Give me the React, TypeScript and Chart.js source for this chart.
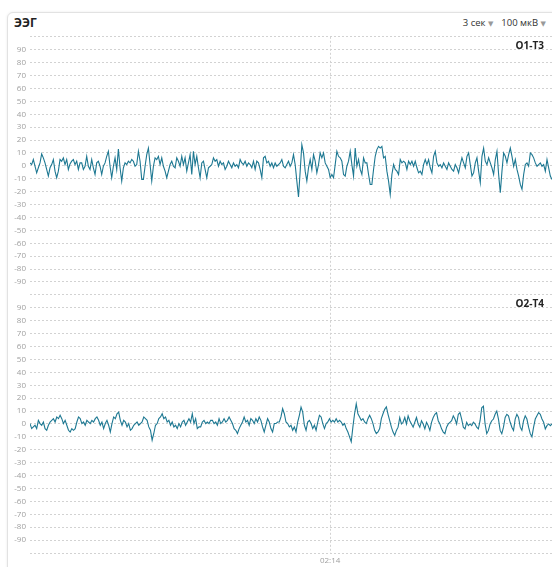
import React, { useEffect, useRef } from 'react';
import { Chart, registerables } from 'chart.js';

Chart.register(...registerables);

// ---- data ----
const chartTitle = 'ЭЭГ';
const timeWindowLabel = '3 сек';
const amplitudeLabel = '100 мкВ';
const channelNames = ['O1-T3', 'O2-T4'];
const windowStartSec = 132.275;
const windowLengthSec = 3;
const markerSec = 134;
const yMin = -100;
const yMax = 100;
const yStep = 10;

const o1t3: number[] = [
  2.3, 1.0, 4.9, -0.3, -5.4, -1.5, 2.3, 9.2, 6.2, 2.3, -2.8, -7.9, -1.5, 1.0, 4.9, -4.1, -9.2, -4.1, 4.9, 3.6,
  6.2, 1.0, 4.9, -2.8, 1.5, 3.6, 4.9, 1.0, 3.6, -2.8, 2.3, 2.3, -2.8, -0.3, 7.4, -0.3, -2.8, 4.9, -1.5, -6.7,
  2.3, 3.6, -0.3, -6.7, -0.3, 2.3, 7.4, 11.3, -0.3, -9.2, -0.3, 6.2, -2.8, 13.1, -1.5, -11.8, -1.5, 2.3, 1.0, 3.6,
  2.3, 4.9, 3.6, -0.3, 1.0, 11.3, 3.6, -10.5, -10.5, -0.3, 8.7, 13.8, 1.0, -11.8, -0.3, 6.2, 4.9, 7.4, 1.0, 6.2,
  -0.3, -4.1, -9.2, -4.1, 1.0, 3.6, -0.3, -1.5, 6.2, 3.6, -0.3, 7.4, 1.0, 6.2, -4.1, 2.3, 8.7, -6.7, 11.3, 1.0,
  7.4, -1.5, -9.2, 2.3, 3.6,
  -2.8, -9.2, -1.5, -0.3, 1.0, 6.2, 3.6, 4.9, -0.3, 3.6, 1.0, 2.3, -2.8, -0.3, 3.6, 1.0, -1.5, 2.3, -0.3, 1.0,
  -1.5, 4.9, 2.3, 1.0, 3.6, -0.3, 2.3, 1.0, -1.5, 3.6, -2.8, 3.6, 2.3, -2.8, -9.2, 6.2, 7.4, 2.3, 3.6, -0.3,
  2.3, -1.5, 2.3, -0.3, 1.0, 2.3, 4.9, -0.3, -1.5, 1.0, 3.6, -0.3, 2.3, 8.7, 1.0, -11.8, -24.1, -4.1, 16.4, 10.0,
  -4.1, -11.8, -1.5, 4.9, -2.8, 8.7, 3.6, -5.4, 1.0, 10.0, 6.2, 10.0, 2.3, -0.3, -2.8, -9.2, -6.7, -9.2, 1.0, 11.3,
  7.4, 6.2, 3.6, -6.7, -7.9, -0.3, 3.6, 11.3, 1.0, -7.9, 13.8, -0.3, 4.9, -2.8, -6.7, 6.2, 2.3, 2.3, -6.7, -14.4,
  -14.4, -2.8, 7.4, 12.6, 15.1, 13.8, 15.1,
  6.2, 7.4, -4.1, -11.8, -22.1, -6.7, 1.0, -2.8, -4.1, -6.7, 4.9, 2.3, 3.6, 2.3, -2.8, 3.6, 1.0, 3.6, -0.3, 3.6,
  -1.5, -5.4, -4.1, -6.7, 1.0, 4.9, 1.0, 4.9, -1.5, -5.4, 7.4, 11.3, 2.3, -0.3, 1.0, -1.5, 2.3, -0.3, -2.8, 2.3,
  -0.3, -2.8, -4.1, 1.0, -1.5, -5.4, 1.0, 6.2, 2.3, -1.5, 7.4, 10.0, 1.0, -7.9, -5.4, 2.3, 6.2, -4.1, -13.1, 7.4,
  13.8, 3.6, 1.0, 6.2, 2.3, -1.5, -6.7, 4.9, 11.3, -6.7, -20.8, -4.1, 10.0, 7.4, 2.3, 8.7, 13.8, 7.4, -0.3, 4.9,
  -2.8, -7.9, -14.4, -18.2, -6.7, 1.0, 2.3, -0.3, 10.0, 8.7, 6.2, 2.3, -0.3, 1.0, 2.3, -0.3, 1.0, -4.1, 4.9, -1.5,
  -7.9, -10.5,
];

const o2t4: number[] = [
  0.3, -3.6, -2.3, -1.0, -3.6, 2.8, 0.3, -1.0, 1.5, -3.6, -4.9, -1.0, 1.5, 2.8, 4.1, 1.5, 5.4, 4.1, 6.7, 4.1,
  0.3, 2.8, -1.0, -4.9, -6.2, -3.6, -4.9, -3.6, 1.5, 5.4, 4.1, 0.3, 1.5, -1.0, 2.8, 1.5, 0.3, 2.8, 1.5, 4.1,
  5.4, 2.8, -1.0, 1.5, -3.6, 0.3, 2.8, -1.0, -6.2, 0.3, 5.4, 4.1, 7.9, 9.2, 2.8, -1.0, 2.8, 1.5, -2.3, 0.3,
  -4.9, -3.6, -1.0, 0.3, 1.5, -1.0, 0.3, 1.5, 5.4, 4.1, 2.8, -2.3, -4.9, -12.6, -7.4, -1.0, 0.3, 4.1, 5.4, 7.9,
  4.1, 5.4, 1.5, 2.8, -1.0, 1.5, -2.3, -1.0, -3.6, 0.3, -2.3, 1.5, 2.8, -1.0, 1.5, 4.1, 1.5, 7.9, 0.3, 4.1,
  -3.6, -2.3, -2.3, 1.5, 2.8, 0.3,
  1.5, 0.3, 2.8, 2.8, 0.3, 1.5, -1.0, 4.1, 0.3, 1.5, 4.1, 1.5, 2.8, 5.4, 2.8, 0.3, -3.6, -4.9, -7.4, -3.6,
  -1.0, 1.5, 5.4, 1.5, 2.8, -1.0, 4.1, 2.8, 0.3, 4.1, 1.5, 5.4, 2.8, -2.3, -6.2, -1.0, 4.1, 1.5, -3.6, -6.2,
  0.3, 0.3, 1.5, 1.5, 5.4, 11.8, 7.9, 1.5, 0.3, -2.3, -1.0, -4.9, -2.3, -6.2, 1.5, 6.7, 13.1, 9.2, -1.0, -4.9,
  1.5, 2.8, 0.3, -3.6, -1.0, -4.9, 1.5, 6.7, 5.4, 0.3, -3.6, 0.3, 1.5, 4.1, 1.5, 2.8, 1.5, 4.1, 1.5, 2.8,
  1.5, -1.0, 0.3, -3.6, -6.2, -10.0, -13.8, -2.3, 7.9, 15.6, 7.9, 5.4, 2.8, 4.1, 1.5, 0.3, 4.1, 6.7, 4.1, 0.3,
  -4.9, -7.4, -6.2, -3.6, 4.1, 7.9,
  11.3, 13.3, 7.5, 2.5, -2.5, -6.3, -8.8, -5.0, -2.5, 5.0, 0, 1.3, 5.0, 0, 6.3, 2.5, 0, -2.5, 1.3, 5.0,
  0, -2.5, 2.5, 0, -3.8, 1.3, -1.3, -5.0, 1.3, 5.0, 7.5, 8.8, 2.5, 0, -3.8, -6.3, -7.5, -2.5, 0, 1.3,
  2.5, 6.3, 3.8, 0, 7.5, 8.8, 3.8, -2.5, -3.8, 1.3, -1.3, 0, -1.3, 1.3, 0, -2.5, -3.8, 2.5, 12.5, 13.8,
  0, -7.5, -5.0, 0, 2.5, 3.8, 7.5, 10.0, 3.8, -5.0, -7.5, -2.5, 5.0, 7.5, 6.3, 1.3, -2.5, -5.0, 3.8, 7.5,
  5.0, -2.5, -5.0, 2.5, 6.3, 3.8, -2.5, -7.5, -10.0, -2.5, 3.8, 6.3, 8.8, 7.5, 3.8, 1.3, -3.8, -1.3, 0, -1.3,
  0,
];

const channelSeries = [o1t3, o2t4];

// ---- helpers ----
const fontFamily = '"Open Sans", "Noto Sans", "DejaVu Sans", sans-serif';
const lineColor = '#1d7892';
const gridColor = '#d2d2d2';
const tickColor = '#a0a0a0';

function toPoints(values: number[]) {
  const n = values.length;
  return values.map((v, i) => ({ x: windowStartSec + (i * windowLengthSec) / (n - 1), y: v }));
}

function formatClock(sec: number) {
  const m = Math.floor(sec / 60);
  const s = Math.round(sec - m * 60);
  return String(m).padStart(2, '0') + ':' + String(s).padStart(2, '0');
}

function yScale(stackWeight: number) {
  return {
    type: 'linear' as const,
    position: 'left' as const,
    stack: 'eeg',
    stackWeight,
    min: yMin,
    max: yMax,
    afterBuildTicks: (s: any) => {
      const t = [];
      for (let v = yMin; v <= yMax; v += yStep) t.push({ value: v });
      s.ticks = t;
    },
    afterFit: (s: any) => {
      s.width = 30;
    },
    ticks: {
      color: tickColor,
      font: { size: 8, family: fontFamily },
      padding: 4,
      autoSkip: false,
      callback: (v: any) => (Math.abs(v) === yMax ? '' : String(v)),
    },
    grid: { color: gridColor, drawTicks: false, lineWidth: 1 },
    border: { display: false, dash: [2, 2] },
  };
}

const channelLabelPlugin = {
  id: 'channelLabels',
  afterDraw(chart: any) {
    const ctx = chart.ctx;
    ctx.save();
    ctx.font = 'bold 10px ' + fontFamily;
    ctx.fillStyle = '#222';
    ctx.textAlign = 'right';
    ctx.textBaseline = 'middle';
    ['yTop', 'yBottom'].forEach((id, i) => {
      const sc = chart.scales[id];
      ctx.fillText(channelNames[i], chart.chartArea.right - 8, sc.top + 9);
    });
    ctx.restore();
  },
};

export default function App() {
  const canvasRef = useRef<HTMLCanvasElement | null>(null);

  useEffect(() => {
    document.body.style.overflow = 'hidden';
    const canvas = canvasRef.current;
    if (!canvas) return;
    const chart = new Chart(canvas, {
      type: 'line',
      data: {
        datasets: channelSeries.map((vals, i) => ({
          label: channelNames[i],
          data: toPoints(vals),
          yAxisID: i === 0 ? 'yTop' : 'yBottom',
          borderColor: lineColor,
          borderWidth: 1.1,
          pointRadius: 0,
          tension: 0,
          fill: false,
        })),
      },
      options: {
        animation: false,
        responsive: false,
        maintainAspectRatio: false,
        parsing: false as any,
        normalized: true,
        layout: { padding: { top: 0, right: 0, left: 0, bottom: 0 } },
        plugins: { legend: { display: false }, tooltip: { enabled: false } },
        scales: {
          x: {
            type: 'linear',
            min: windowStartSec,
            max: windowStartSec + windowLengthSec,
            afterBuildTicks: (s: any) => {
              s.ticks = [{ value: markerSec }];
            },
            afterFit: (s: any) => {
              s.height = 14;
            },
            ticks: {
              color: tickColor,
              font: { size: 8, family: fontFamily },
              padding: 3,
              maxRotation: 0,
              callback: (v: any) => formatClock(Number(v)),
            },
            grid: { color: gridColor, drawTicks: false, lineWidth: 1 },
            border: { display: false, dash: [2, 2] },
          },
          yBottom: yScale(1),
          yTop: yScale(1),
        } as any,
      },
      plugins: [channelLabelPlugin],
    });
    return () => chart.destroy();
  }, []);

  return (
    <div style={{ position: 'fixed', left: 0, top: 0, width: 552, height: 567, background: '#fff', overflow: 'hidden', fontFamily }}>
      <div
        style={{
          position: 'absolute',
          left: 7,
          top: 12,
          width: 560,
          height: 600,
          border: '1px solid #e2e2e2',
          borderRadius: 6,
          boxShadow: '0 0 3px rgba(0,0,0,0.08)',
          background: '#fff',
        }}
      />
      <div style={{ position: 'absolute', left: 14, top: 14, fontSize: 12, fontWeight: 700, color: '#222' }}>{chartTitle}</div>
      <div style={{ position: 'absolute', right: 6, top: 16, fontSize: 9.5, color: '#333', display: 'flex', gap: 8 }}>
        <span>
          {timeWindowLabel} <span style={{ color: '#999', fontSize: 7 }}>▼</span>
        </span>
        <span>
          {amplitudeLabel} <span style={{ color: '#999', fontSize: 7 }}>▼</span>
        </span>
      </div>
      <canvas ref={canvasRef} width={552} height={539} style={{ position: 'absolute', left: 0, top: 28, width: 552, height: 539 }} />
    </div>
  );
}
